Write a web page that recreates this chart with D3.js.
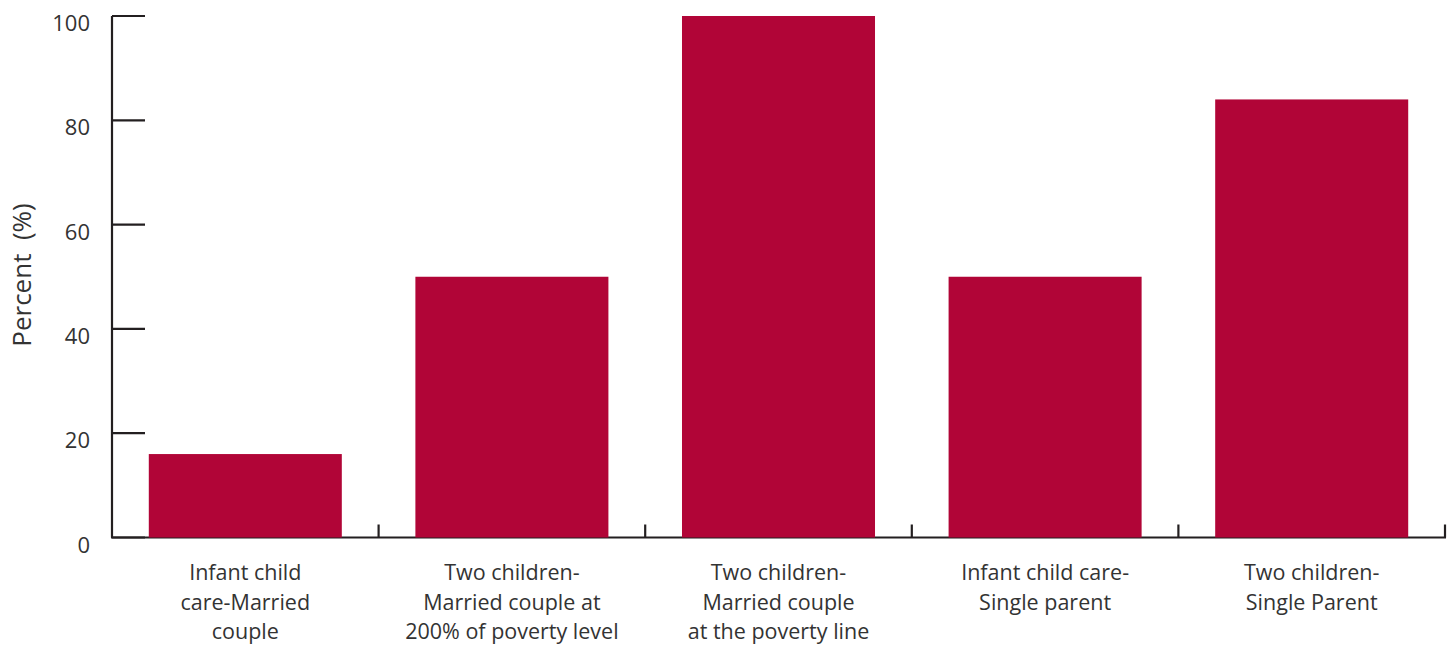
<!DOCTYPE html>
<html>
<head>
<meta charset="utf-8">
<script src="https://cdn.jsdelivr.net/npm/d3@7"></script>
<style>
  body { margin: 0; background: #fff; }
  text { font-family: "Open Sans", "Noto Sans", sans-serif; fill: #333; }
</style>
</head>
<body>
<div id="chart"></div>
<script>
const categories = [
    ["Infant child", "care-Married", "couple"],
    ["Two children-", "Married couple at", "200% of poverty level"],
    ["Two children-", "Married couple", "at the poverty line"],
    ["Infant child care-", "Single parent"],
    ["Two children-", "Single Parent"]
];
const values = [16, 50, 100, 50, 84];
const yTicks = [0, 20, 40, 60, 80, 100];

const width = 1455, height = 646;
const margin = { top: 16, right: 10, bottom: 109, left: 112 };

const svg = d3.select("#chart")
    .append("svg")
    .attr("width", width)
    .attr("height", height);

const x = d3.scaleBand()
    .domain(d3.range(categories.length))
    .range([margin.left, 1445])
    .paddingInner(0.276)
    .paddingOuter(0.138);

const y = d3.scaleLinear()
    .domain([0, 100])
    .range([height - margin.bottom + 0.5, margin.top]);

const axisColor = "#231f20";

// y axis line + inward ticks
svg.append("line")
    .attr("x1", margin.left).attr("x2", margin.left)
    .attr("y1", y(100)).attr("y2", y(0))
    .attr("stroke", axisColor).attr("stroke-width", 2.2);

svg.selectAll(".ytick")
    .data(yTicks)
    .enter()
    .append("line")
    .attr("x1", margin.left).attr("x2", margin.left + 33)
    .attr("y1", d => y(d)).attr("y2", d => y(d))
    .attr("stroke", axisColor).attr("stroke-width", 2.2);

svg.selectAll(".ylabel")
    .data(yTicks)
    .enter()
    .append("text")
    .attr("x", 90)
    .attr("y", d => y(d) + 15)
    .attr("text-anchor", "end")
    .attr("font-size", "22px")
    .text(d => d);

// x axis line + upward ticks at band boundaries
svg.append("line")
    .attr("x1", margin.left - 1).attr("x2", 1446)
    .attr("y1", y(0)).attr("y2", y(0))
    .attr("stroke", axisColor).attr("stroke-width", 2.2);

const bounds = d3.range(1, categories.length + 1).map(i => x.range()[0] + i * x.step());
svg.selectAll(".xtick")
    .data(bounds)
    .enter()
    .append("line")
    .attr("x1", d => d).attr("x2", d => d)
    .attr("y1", y(0)).attr("y2", y(0) - 13)
    .attr("stroke", axisColor).attr("stroke-width", 2.2);

// bars
svg.selectAll(".bar")
    .data(values)
    .enter()
    .append("rect")
    .attr("x", (d, i) => x(i))
    .attr("width", x.bandwidth())
    .attr("y", d => y(d))
    .attr("height", d => y(0) - y(d))
    .attr("fill", "#b10537");

// category labels
const labels = svg.selectAll(".xlabel")
    .data(categories)
    .enter()
    .append("text")
    .attr("text-anchor", "middle")
    .attr("font-size", "21.5px");

labels.selectAll("tspan")
    .data((d, i) => d.map(line => ({ line, i })))
    .enter()
    .append("tspan")
    .attr("x", d => x(d.i) + x.bandwidth() / 2)
    .attr("y", (d, j) => 580 + j * 29.5)
    .text(d => d.line);

// y axis title
svg.append("text")
    .attr("transform", `translate(31, 275) rotate(-90)`)
    .attr("text-anchor", "middle")
    .attr("font-size", "26px")
    .attr("xml:space", "preserve")
    .style("white-space", "pre")
    .text("Percent  (%)");
</script>
</body>
</html>
